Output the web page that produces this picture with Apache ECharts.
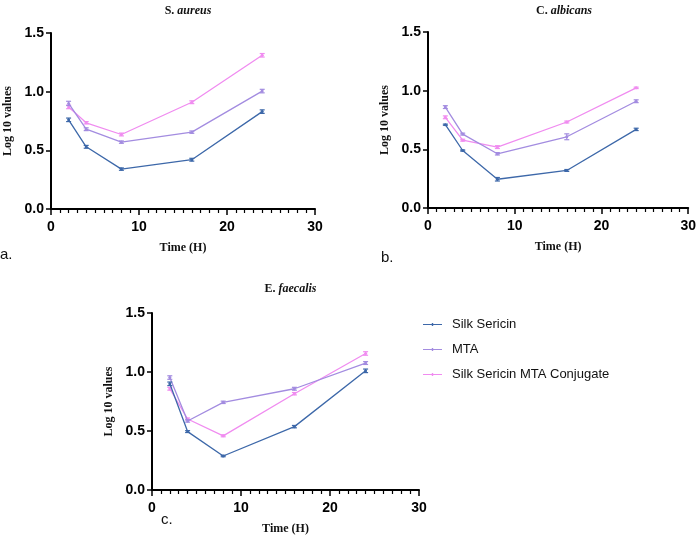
<!DOCTYPE html>
<html>
<head>
    <meta charset="utf-8">
    <title>ECharts</title>
    <script src="https://cdn.jsdelivr.net/npm/echarts@6/dist/echarts.min.js"></script>
</head>
<body style="margin:0;background:#fff;">
    <div id="main" style="width: 699px;height:544px;"></div>
    <script type="text/javascript">
        // time points (hours)
        var times = [2, 4, 8, 16, 24];
        var names = ['Silk Sericin', 'MTA', 'Silk Sericin MTA Conjugate'];
        var colors = ['#3d68a9', '#a38ce0', '#f08cf0'];

        // S. aureus
        var aureusSS = [0.76, 0.53, 0.34, 0.42, 0.83];
        var aureusMTA = [0.90, 0.68, 0.57, 0.655, 1.005];
        var aureusConj = [0.87, 0.735, 0.635, 0.91, 1.31];
        var aureusErrSS = [0.015, 0.012, 0.01, 0.012, 0.015];
        var aureusErrMTA = [0.018, 0.012, 0.01, 0.01, 0.015];
        var aureusErrConj = [0.015, 0.01, 0.012, 0.012, 0.015];

        // C. albicans
        var albicansSS = [0.71, 0.49, 0.245, 0.32, 0.67];
        var albicansMTA = [0.86, 0.63, 0.462, 0.607, 0.91];
        var albicansConj = [0.773, 0.578, 0.519, 0.733, 1.024];
        var albicansErrSS = [0.005, 0.005, 0.015, 0.008, 0.01];
        var albicansErrMTA = [0.012, 0.008, 0.01, 0.025, 0.012];
        var albicansErrConj = [0.012, 0.008, 0.012, 0.008, 0.006];

        // E. faecalis
        var faecalisSS = [0.90, 0.495, 0.288, 0.537, 1.01];
        var faecalisMTA = [0.953, 0.585, 0.743, 0.858, 1.076];
        var faecalisConj = [0.858, 0.602, 0.459, 0.816, 1.157];
        var faecalisErrSS = [0.015, 0.008, 0.006, 0.01, 0.015];
        var faecalisErrMTA = [0.015, 0.01, 0.01, 0.012, 0.012];
        var faecalisErrConj = [0.012, 0.008, 0.008, 0.01, 0.015];

        var panels = [
            { genus: 'S. ', species: 'aureus', tag: 'a.', vals: [aureusSS, aureusMTA, aureusConj], errs: [aureusErrSS, aureusErrMTA, aureusErrConj] },
            { genus: 'C. ', species: 'albicans', tag: 'b.', vals: [albicansSS, albicansMTA, albicansConj], errs: [albicansErrSS, albicansErrMTA, albicansErrConj] },
            { genus: 'E. ', species: 'faecalis', tag: 'c.', vals: [faecalisSS, faecalisMTA, faecalisConj], errs: [faecalisErrSS, faecalisErrMTA, faecalisErrConj] }
        ];

        var grids = [
            { left: 51, top: 33, width: 264, height: 176 },
            { left: 428, top: 32, width: 262, height: 176 },
            { left: 152, top: 313, width: 267, height: 177 }
        ];
        var tagPos = [[0, 247], [381, 250], [161, 512]];

        var serif = '"Liberation Serif", "Times New Roman", serif';
        var sans = '"Liberation Sans", Arial, sans-serif';

        var xAxes = [], yAxes = [], series = [], titles = [], graphics = [];
        for (var p = 0; p < panels.length; p++) {
            var g = grids[p];
            xAxes.push({
                gridIndex: p, type: 'value', min: 0, max: 30, interval: 10,
                name: 'Time (H)', nameLocation: 'middle', nameGap: 33,
                nameTextStyle: { fontFamily: serif, fontWeight: 'bold', fontSize: 12, color: '#111' },
                axisLine: { lineStyle: { color: '#000', width: 2 } },
                axisTick: { show: true, length: 6, lineStyle: { color: '#000', width: 1.5 } },
                minorTick: { show: true, splitNumber: 10, length: 4, lineStyle: { color: '#000', width: 1.2 } },
                axisLabel: { margin: 11, fontFamily: sans, fontWeight: 'bold', fontSize: 14, color: '#000' },
                splitLine: { show: false }
            });
            yAxes.push({
                gridIndex: p, type: 'value', min: 0, max: 1.5, interval: 0.5,
                name: 'Log 10 values', nameLocation: 'middle', nameGap: 37,
                nameTextStyle: { fontFamily: serif, fontWeight: 'bold', fontSize: 12, color: '#111' },
                axisLine: { show: true, lineStyle: { color: '#000', width: 2 } },
                axisTick: { show: true, length: 5, lineStyle: { color: '#000', width: 1.5 } },
                axisLabel: { margin: 7, fontFamily: sans, fontWeight: 'bold', fontSize: 14, color: '#000',
                    formatter: function (v) { return v.toFixed(1); } },
                splitLine: { show: false }
            });
            titles.push({
                text: '{n|' + panels[p].genus + '}{i|' + panels[p].species + '}',
                left: g.left + g.width / 2, top: p == 2 ? 278 : 0, textAlign: 'center',
                textStyle: {
                    rich: {
                        n: { fontFamily: serif, fontWeight: 'bold', fontSize: 12, color: '#111' },
                        i: { fontFamily: serif, fontWeight: 'bold', fontStyle: 'italic', fontSize: 12, color: '#111' }
                    }
                }
            });
            graphics.push({
                type: 'text', left: tagPos[p][0], top: tagPos[p][1],
                style: { text: panels[p].tag, font: '15px ' + sans, fill: '#111' }
            });
            for (var s = 0; s < 3; s++) {
                var pts = [], errData = [];
                for (var i = 0; i < times.length; i++) {
                    pts.push([times[i], panels[p].vals[s][i]]);
                    errData.push([times[i], panels[p].vals[s][i] - panels[p].errs[s][i], panels[p].vals[s][i] + panels[p].errs[s][i]]);
                }
                series.push({
                    name: names[s], type: 'line', xAxisIndex: p, yAxisIndex: p,
                    data: pts, symbol: 'circle', symbolSize: 3, showSymbol: true,
                    lineStyle: { color: colors[s], width: 1.3 },
                    itemStyle: { color: colors[s] },
                    z: 3 - s + 2
                });
                series.push({
                    name: names[s], type: 'custom', xAxisIndex: p, yAxisIndex: p,
                    data: errData, z: 3 - s + 2,
                    renderItem: (function (col) {
                        return function (params, api) {
                            var lo = api.coord([api.value(0), api.value(1)]);
                            var hi = api.coord([api.value(0), api.value(2)]);
                            var w = 2.5;
                            var st = { stroke: col, lineWidth: 1.2 };
                            return {
                                type: 'group',
                                children: [
                                    { type: 'line', shape: { x1: lo[0], y1: lo[1], x2: hi[0], y2: hi[1] }, style: st },
                                    { type: 'line', shape: { x1: lo[0] - w, y1: lo[1], x2: lo[0] + w, y2: lo[1] }, style: st },
                                    { type: 'line', shape: { x1: hi[0] - w, y1: hi[1], x2: hi[0] + w, y2: hi[1] }, style: st }
                                ]
                            };
                        };
                    })(colors[s])
                });
            }
        }

        var option = {
            animation: false,
            backgroundColor: '#fff',
            color: colors,
            title: titles,
            grid: grids,
            xAxis: xAxes,
            yAxis: yAxes,
            legend: {
                data: names.map(function (n) {
                    return { name: n, icon: 'path://M0,4.4 L19,4.4 L19,5.6 L0,5.6 Z M8.8,3.5 L10.2,3.5 L10.2,6.5 L8.8,6.5 Z' };
                }),
                orient: 'vertical', left: 421, top: 316, padding: 2,
                itemWidth: 19, itemHeight: 10, itemGap: 12,
                textStyle: { fontFamily: sans, fontSize: 13, color: '#111', padding: [0, 0, 0, 5] }
            },
            graphic: graphics,
            series: series
        };
        var myChart = echarts.init(document.getElementById('main'));
        myChart.setOption(option);
    </script>
</body>
</html>
